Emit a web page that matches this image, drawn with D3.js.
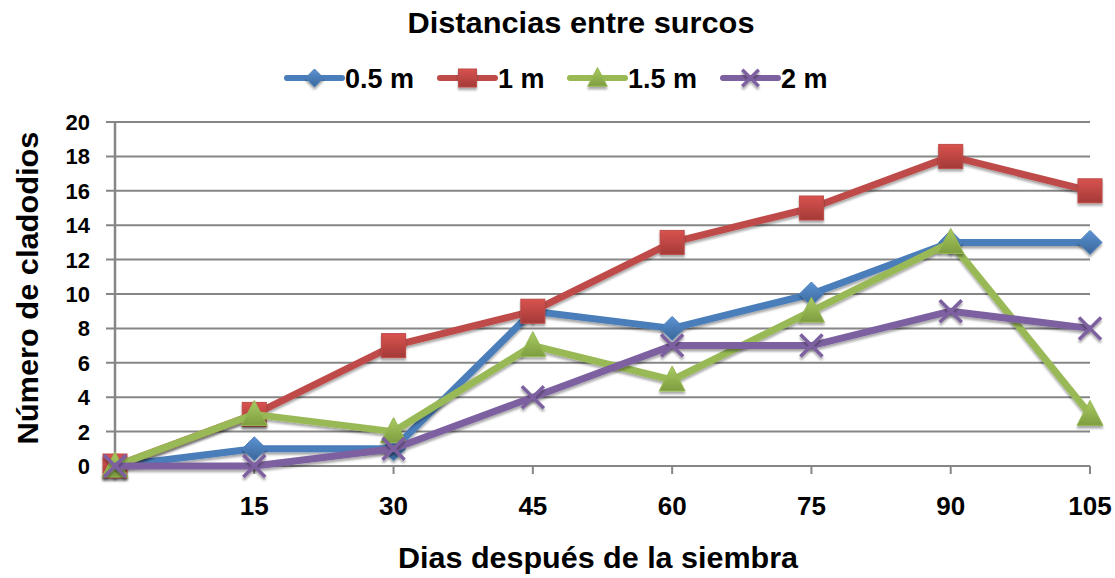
<!DOCTYPE html>
<html><head><meta charset="utf-8">
<script src="https://cdn.jsdelivr.net/npm/d3@7"></script>
<style>body{margin:0;background:#fff}svg{display:block}text{font-family:"Liberation Sans",Arial,sans-serif;font-weight:bold;fill:#000}</style>
</head><body><svg id="c" width="1115" height="578"></svg>
<script>
const days = [0, 15, 30, 45, 60, 75, 90, 105];
const xTickLabels = ["15", "30", "45", "60", "75", "90", "105"];
const yTicks = [0, 2, 4, 6, 8, 10, 12, 14, 16, 18, 20];
const seriesNames = ["0.5 m", "1 m", "1.5 m", "2 m"];
const v05 = [0, 1, 1, 9, 8, 10, 13, 13];
const v1 = [0, 3, 7, 9, 13, 15, 18, 16];
const v15 = [0, 3, 2, 7, 5, 9, 13, 3];
const v2 = [0, 0, 1, 4, 7, 7, 9, 8];
const colors = ["#4A7EBB", "#BE4B48", "#98B954", "#7D60A0"];
const light = ["#5B93D4", "#D9534F", "#A9CB62", "#8F72B3"];
const dark = ["#3A6699", "#A33A37", "#7E9D40", "#6A4F8C"];
const symbols = ["diamond", "square", "triangle", "x"];
const allVals = [v05, v1, v15, v2];

const svg = d3.select("#c");
const L = 115, R = 1090, T = 122, B = 466;
const x = d3.scaleLinear().domain([0, 105]).range([L, R]);
const y = d3.scaleLinear().domain([0, 20]).range([B, T]);

const defs = svg.append("defs");
colors.forEach((c, i) => {
  const g = defs.append("linearGradient").attr("id", "g" + i).attr("x1", 0).attr("y1", 0).attr("x2", 0).attr("y2", 1);
  g.append("stop").attr("offset", "0%").attr("stop-color", light[i]);
  g.append("stop").attr("offset", "100%").attr("stop-color", dark[i]);
});
const f = defs.append("filter").attr("id", "sh").attr("x", "-50%").attr("y", "-50%").attr("width", "200%").attr("height", "200%");
f.append("feDropShadow").attr("dx", 0).attr("dy", 2.5).attr("stdDeviation", 1.2).attr("flood-color", "#000").attr("flood-opacity", 0.35);

// gridlines
svg.append("g").selectAll("line").data(yTicks).join("line")
  .attr("x1", L - 9).attr("x2", R).attr("y1", d => y(d)).attr("y2", d => y(d))
  .attr("stroke", "#868686").attr("stroke-width", 2);
// y axis line
svg.append("line").attr("x1", L).attr("x2", L).attr("y1", T).attr("y2", B + 8)
  .attr("stroke", "#868686").attr("stroke-width", 2.5);
// x ticks
svg.append("g").selectAll("line").data(days.slice(1)).join("line")
  .attr("x1", d => x(d)).attr("x2", d => x(d)).attr("y1", B).attr("y2", B + 8)
  .attr("stroke", "#868686").attr("stroke-width", 2);

// y tick labels
svg.append("g").selectAll("text").data(yTicks).join("text")
  .attr("x", 90).attr("y", d => y(d)).attr("dy", "0.36em").attr("text-anchor", "end")
  .attr("font-size", 22).text(d => d);
// x tick labels
svg.append("g").selectAll("text").data(days.slice(1)).join("text")
  .attr("x", d => x(d)).attr("y", 515).attr("text-anchor", "middle")
  .attr("font-size", 26).text((d, i) => xTickLabels[i]);

// titles
svg.append("text").attr("x", 581).attr("y", 33).attr("text-anchor", "middle").attr("font-size", 29)
  .attr("textLength", 347).attr("lengthAdjust", "spacingAndGlyphs").text("Distancias entre surcos");
svg.append("text").attr("x", 598).attr("y", 568).attr("text-anchor", "middle").attr("font-size", 29)
  .attr("textLength", 400).attr("lengthAdjust", "spacingAndGlyphs").text("Dias después de la siembra");
svg.append("text").attr("transform", "translate(38,288) rotate(-90)").attr("text-anchor", "middle").attr("font-size", 30)
  .attr("textLength", 313).attr("lengthAdjust", "spacingAndGlyphs").text("Número de cladodios");

function marker(g, i, cx, cy, k) {
  const s = symbols[i];
  if (s === "diamond") {
    g.append("path").attr("d", `M${cx},${cy-12*k}L${cx+12*k},${cy}L${cx},${cy+12*k}L${cx-12*k},${cy}Z`).attr("fill", `url(#g${i})`).attr("stroke", colors[i]).attr("stroke-width", 1).attr("filter", "url(#sh)");
  } else if (s === "square") {
    g.append("rect").attr("x", cx - 12*k).attr("y", cy - 12*k).attr("width", 24*k).attr("height", 24*k).attr("fill", `url(#g${i})`).attr("stroke", colors[i]).attr("stroke-width", 1).attr("filter", "url(#sh)");
  } else if (s === "triangle") {
    g.append("path").attr("d", `M${cx},${cy-14*k}L${cx+13*k},${cy+11*k}L${cx-13*k},${cy+11*k}Z`).attr("fill", `url(#g${i})`).attr("stroke", colors[i]).attr("stroke-width", 1).attr("filter", "url(#sh)");
  } else {
    g.append("path").attr("d", `M${cx-11*k},${cy-11*k}L${cx+11*k},${cy+11*k}M${cx+11*k},${cy-11*k}L${cx-11*k},${cy+11*k}`).attr("stroke", colors[i]).attr("stroke-width", 3.5).attr("fill", "none").attr("filter", "url(#sh)");
  }
}

const line = d3.line().x(d => x(d[0])).y(d => y(d[1]));
allVals.forEach((vals, i) => {
  const g = svg.append("g");
  const pts = days.map((d, k) => [d, vals[k]]);
  g.append("path").attr("d", line(pts)).attr("fill", "none").attr("stroke", colors[i]).attr("stroke-width", 7).attr("stroke-linejoin", "round").attr("filter", "url(#sh)");
  pts.forEach(p => marker(g, i, x(p[0]), y(p[1]), 1));
});

// legend
const legX = [287, 440, 570, 723];
seriesNames.forEach((n, i) => {
  const g = svg.append("g");
  const lx = legX[i], ly = 78;
  g.append("line").attr("x1", lx).attr("x2", lx + 55).attr("y1", ly).attr("y2", ly).attr("stroke", colors[i]).attr("stroke-width", 6).attr("stroke-linecap", "round");
  marker(g, i, lx + 27.5, ly, 0.75);
  g.append("text").attr("x", lx + 58).attr("y", 88).attr("font-weight", "normal").attr("font-size", 27).text(n);
});
</script></body></html>
